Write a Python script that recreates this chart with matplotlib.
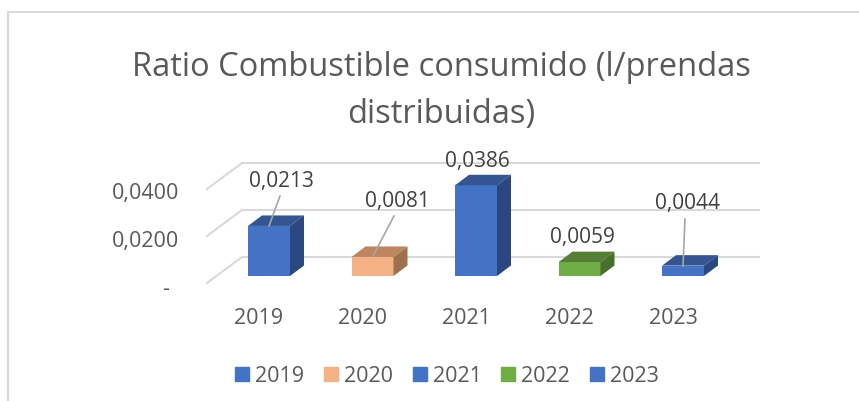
import matplotlib
matplotlib.use('Agg')
import matplotlib.pyplot as plt
from matplotlib.patches import Polygon, Rectangle
from matplotlib.lines import Line2D

W, H = 859, 401

years = ['2019', '2020', '2021', '2022', '2023']
values = [0.0213, 0.0081, 0.0386, 0.0059, 0.0044]
value_labels = ['0,0213', '0,0081', '0,0386', '0,0059', '0,0044']
ticks = [0.0, 0.02, 0.04]
tick_labels = ['-', '0,0200', '0,0400']
front = ['#4472c4', '#f4b183', '#4472c4', '#70ad47', '#4472c4']
top = ['#34558f', '#bd8660', '#34558f', '#557f36', '#34558f']
side = ['#2a4780', '#9c7150', '#2a4780', '#46702c', '#2a4780']

plt.rcParams['font.family'] = ['Open Sans', 'DejaVu Sans']

fig = plt.figure(figsize=(W/100, H/100), dpi=100)
ax = fig.add_axes([0, 0, 1, 1])
ax.axis('off')

# data units <-> pixels of the picture
px_x = 103.5
px_y = 2350.0
ax.set_xlim((0 - 269)/px_x, (W - 269)/px_x)
ax.set_ylim((276 - H)/px_y, 276/px_y)

def X(p):
    return (p - 269)/px_x

def Y(p):
    return (276 - p)/px_y

bar_w = 42/px_x
dx = 14/px_x
dy = 10.5/px_y
wall_x = 35/px_x
wall_y = 26/px_y

# frame of the chart, right and bottom sides are cut off
ax.add_patch(Rectangle((X(8), Y(420)), X(900) - X(8), Y(12) - Y(420),
                       fc='white', ec='#d9d9d9', lw=1.5, clip_on=True))

# back gridlines and left wall
for t, lab in zip(ticks, tick_labels):
    y0 = t + Y(283)
    ax.plot([X(207), X(207) + wall_x], [y0, y0 + wall_y], color='#d9d9d9', lw=1.5)
    ax.plot([X(242), X(759)], [y0 + wall_y, y0 + wall_y], color='#d9d9d9', lw=1.5)
    if t == 0:
        ax.text(X(166), y0 - 6/px_y, lab, ha='center', va='center', fontsize=15.5, color='#595959')
    else:
        ax.text(X(179), y0 - 5/px_y, lab, ha='right', va='center', fontsize=15.5, color='#595959')

# label centres and leader line ends (px)
label_pos = [(281, 182), (397, 201), (477, 162), (582, 238), (687, 203)]
leaders = [((280, 196), (269, 226)), ((394, 216), (373, 256)), None, None, ((685, 219), (683, 266))]

for i, v in enumerate(values):
    x0 = i - bar_w/2
    x1 = i + bar_w/2
    ax.bar(i, v, width=bar_w, color=front[i], zorder=3)
    ax.add_patch(Polygon([(x0, v), (x1, v), (x1 + dx, v + dy), (x0 + dx, v + dy)],
                         fc=top[i], ec='none', zorder=3))
    ax.add_patch(Polygon([(x1, 0), (x1 + dx, dy), (x1 + dx, v + dy), (x1, v)],
                         fc=side[i], ec='none', zorder=3))
    ax.text(i - 10/px_x, Y(318), years[i], ha='center', va='center', fontsize=15.5, color='#595959')
    lx, ly = label_pos[i]
    ax.text(X(lx), Y(ly), value_labels[i], ha='center', va='center', fontsize=15,
            color='#404040', zorder=5)
    if leaders[i]:
        a, b = leaders[i]
        ax.plot([X(a[0]), X(b[0])], [Y(a[1]), Y(b[1])], color='#a6a6a6', lw=1.2, zorder=4)

ax.text(X(441), Y(91), 'Ratio Combustible consumido (l/prendas\ndistribuidas)', ha='center',
        va='center', fontsize=23.5, color='#595959', linespacing=1.55)

handles = [Line2D([], [], marker='s', ls='none', color=c, markersize=10) for c in front]
ax.legend(handles, years, loc='center', bbox_to_anchor=(446/W, 1 - 376/H), ncol=5, frameon=False,
          fontsize=15.5, labelcolor='#595959', handlelength=0.8, handletextpad=0.2, columnspacing=0.85)

fig.savefig('out.png', dpi=100)
